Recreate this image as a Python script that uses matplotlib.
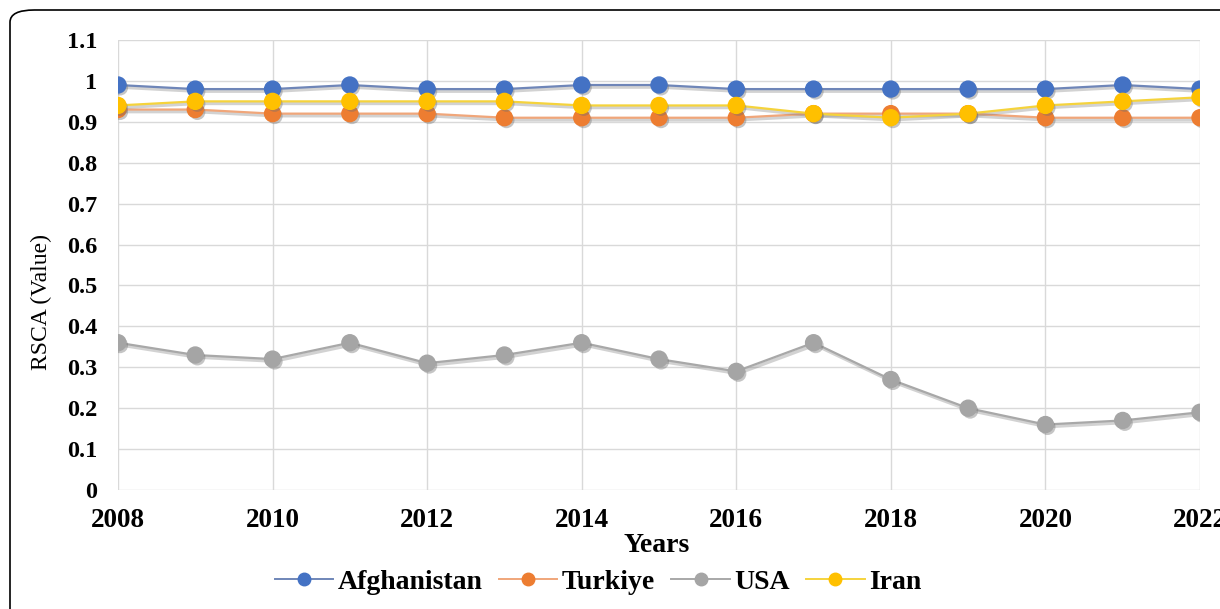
import matplotlib
matplotlib.use("Agg")
import matplotlib.pyplot as plt
import matplotlib.patheffects as pe
from matplotlib.lines import Line2D
from matplotlib.patches import FancyBboxPatch

years = list(range(2008, 2023))
afghanistan = [0.99, 0.98, 0.98, 0.99, 0.98, 0.98, 0.99, 0.99, 0.98, 0.98, 0.98, 0.98, 0.98, 0.99, 0.98]
turkiye = [0.93, 0.93, 0.92, 0.92, 0.92, 0.91, 0.91, 0.91, 0.91, 0.92, 0.92, 0.92, 0.91, 0.91, 0.91]
usa = [0.36, 0.33, 0.32, 0.36, 0.31, 0.33, 0.36, 0.32, 0.29, 0.36, 0.27, 0.20, 0.16, 0.17, 0.19]
iran = [0.94, 0.95, 0.95, 0.95, 0.95, 0.95, 0.94, 0.94, 0.94, 0.92, 0.91, 0.92, 0.94, 0.95, 0.96]

series_names = ["Afghanistan", "Turkiye", "USA", "Iran"]
series_values = [afghanistan, turkiye, usa, iran]
series_colors = ["#4472C4", "#ED7D31", "#A5A5A5", "#FFC000"]
line_colors = ["#6f86b8", "#f0a67a", "#a8a8a8", "#f5d33c"]

y_ticks = [0, 0.1, 0.2, 0.3, 0.4, 0.5, 0.6, 0.7, 0.8, 0.9, 1.0, 1.1]
y_tick_labels = ["0", "0.1", "0.2", "0.3", "0.4", "0.5", "0.6", "0.7", "0.8", "0.9", "1", "1.1"]
x_ticks = list(range(2008, 2023, 2))

plt.rcParams["font.family"] = ["Liberation Serif", "DejaVu Serif"]

fig = plt.figure(figsize=(12.2, 6.09), dpi=100)
ax = fig.add_axes([118 / 1220, 1 - 490 / 609, (1200 - 118) / 1220, (490 - 40) / 609])

line_shadow = [pe.SimpleLineShadow(offset=(1.2, -1.5), shadow_color="#808080", alpha=0.35, linewidth=2.5), pe.Normal()]
marker_shadow = [pe.SimplePatchShadow(offset=(1.5, -1.8), shadow_rgbFace="#707070", alpha=0.4), pe.Normal()]

handles = []
for name, vals, mc, lc in zip(series_names, series_values, series_colors, line_colors):
    ax.plot(years, vals, color=lc, lw=1.6, path_effects=line_shadow, zorder=3)
    ax.plot(years, vals, ls="none", marker="o", markersize=11.5,
            markerfacecolor=mc, markeredgecolor=mc, path_effects=marker_shadow, zorder=4)
    handles.append(Line2D([], [], color=lc, lw=1.4, marker="o", markersize=9,
                          markerfacecolor=mc, markeredgecolor=mc, label=name))

ax.set_xlim(2008, 2022)
ax.set_ylim(0, 1.1)
ax.set_yticks(y_ticks)
ax.set_yticklabels(y_tick_labels)
ax.set_xticks(x_ticks)
ax.grid(True, color="#d9d9d9", lw=1.0)
ax.set_axisbelow(True)
for s in ax.spines.values():
    s.set_visible(False)
ax.tick_params(length=0)
ax.tick_params(axis="y", labelsize=17.5, pad=15)
ax.tick_params(axis="x", labelsize=19.5, pad=13)
for lbl in ax.get_xticklabels() + ax.get_yticklabels():
    lbl.set_fontweight("bold")
    lbl.set_clip_on(False)

ax.set_xlabel("Years", fontsize=20, fontweight="bold")
ax.xaxis.set_label_coords((657 - 118) / (1200 - 118), (490 - 545) / 450)
ax.xaxis.label.set_va("center")
ax.set_ylabel("RSCA (Value)", fontsize=17)
ax.yaxis.set_label_coords((41 - 118) / (1200 - 118), (490 - 302) / 450)
ax.yaxis.label.set_va("center")

fig.legend(handles=handles, loc="center", bbox_to_anchor=(598 / 1220, 1 - 582 / 609),
           ncol=4, frameon=False, prop={"weight": "bold", "size": 20},
           handlelength=2.1, columnspacing=0.6, handletextpad=0.15)

border = FancyBboxPatch((10 / 1220, -30 / 609), 1250 / 1220, 629 / 609,
                        boxstyle="round,pad=0,rounding_size=0.02",
                        transform=fig.transFigure, fill=False, edgecolor="black",
                        lw=1.2, clip_on=False)
fig.patches.append(border)

fig.savefig("out.png", dpi=100)
